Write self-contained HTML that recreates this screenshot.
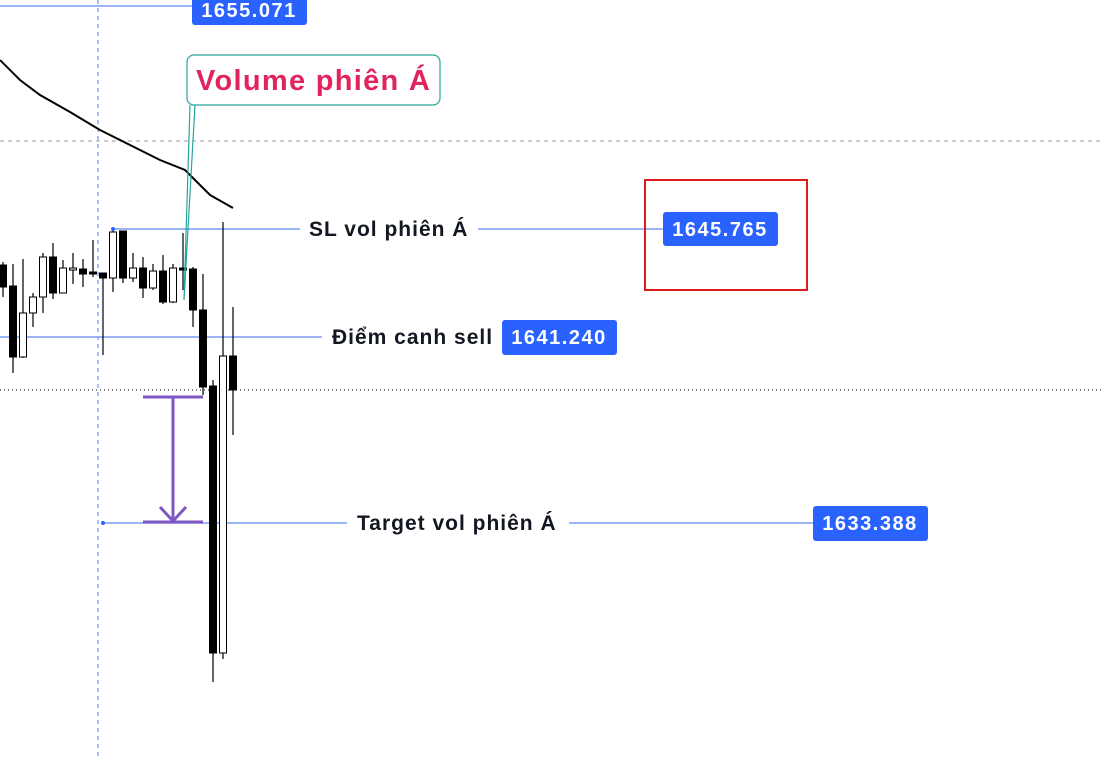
<!DOCTYPE html>
<html><head><meta charset="utf-8"><style>
html,body{margin:0;padding:0;background:#fff;}
svg{display:block;font-family:"Liberation Sans","DejaVu Sans",sans-serif;}
.lbl{font-size:21px;font-weight:bold;fill:#131722;letter-spacing:1px;}
.num{font-size:20px;font-weight:bold;fill:#fff;letter-spacing:1.5px;}
</style></head><body>
<svg id="chart" width="1102" height="760">
<line x1="0" y1="141" x2="1102" y2="141" stroke="#9e9e9e" stroke-dasharray="4,4"/>
<line x1="0" y1="390" x2="1102" y2="390" stroke="#000" stroke-dasharray="1,3"/>
<line x1="98" y1="0" x2="98" y2="760" stroke="#2962ff" stroke-dasharray="4,4" opacity="0.8"/>

<line x1="0" y1="6" x2="193" y2="6" stroke="#7b9cf5" stroke-width="1.5"/>
<line x1="113" y1="229" x2="300" y2="229" stroke="#7b9cf5" stroke-width="1.5"/>
<line x1="0" y1="337" x2="322" y2="337" stroke="#7b9cf5" stroke-width="1.5"/>
<line x1="103" y1="523" x2="347" y2="523" stroke="#7b9cf5" stroke-width="1.5"/>

<g id="candles"></g>
<polyline id="ma" fill="none" stroke="#000" stroke-width="2"/>

<rect x="192" y="-6" width="115" height="31" rx="3" fill="#2962ff"/>
<text x="249" y="17" class="num" text-anchor="middle">1655.071</text>

<circle cx="113" cy="229" r="2" fill="#2962ff"/>
<text x="309" y="236" class="lbl">SL vol phiên Á</text>
<line x1="478" y1="229" x2="663" y2="229" stroke="#7b9cf5" stroke-width="1.5"/>
<rect x="663" y="212" width="115" height="34" rx="3" fill="#2962ff"/>
<text x="720" y="236" class="num" text-anchor="middle">1645.765</text>
<rect x="645" y="180" width="162" height="110" fill="none" stroke="#e01b1b" stroke-width="2"/>

<text x="332" y="344" class="lbl">Điểm canh sell</text>
<rect x="502" y="320" width="115" height="35" rx="3" fill="#2962ff"/>
<text x="559" y="344" class="num" text-anchor="middle">1641.240</text>

<circle cx="103" cy="523" r="2" fill="#2962ff"/>
<text x="357" y="530" class="lbl">Target vol phiên Á</text>
<line x1="569" y1="523" x2="813" y2="523" stroke="#7b9cf5" stroke-width="1.5"/>
<rect x="813" y="506" width="115" height="35" rx="3" fill="#2962ff"/>
<text x="870" y="530" class="num" text-anchor="middle">1633.388</text>

<g stroke="#7e57c2" stroke-width="3" fill="none">
<line x1="143" y1="397" x2="203" y2="397"/>
<line x1="173" y1="397" x2="173" y2="520"/>
<polyline points="160,507 173,521 186,507"/>
<line x1="143" y1="522" x2="203" y2="522"/>
</g>

<g>
<polyline points="190,105 184,300 195,105" fill="none" stroke="#26a69a" stroke-width="1.2"/>
<rect x="187" y="55" width="253" height="50" rx="7" fill="#fff" stroke="#26a69a" stroke-width="1.2"/>
<text x="196" y="90" fill="#e0245e" font-size="29" font-weight="bold" letter-spacing="1.3">Volume phiên Á</text>
</g>
</svg>
<script>
const opens  = [1644.252,1643.370,1640.387,1642.236,1642.908,1644.589,1643.076,1644.042,1644.084,1643.958,1643.916,1643.706,1645.681,1643.706,1644.126,1643.286,1644.000,1642.698,1644.126,1644.084,1642.362,1639.168,1627.950,1640.429];
const highs  = [1644.378,1644.294,1644.504,1643.076,1644.757,1645.177,1644.462,1644.757,1644.504,1645.303,1643.916,1645.807,1645.681,1644.757,1644.589,1644.294,1644.673,1644.294,1645.597,1644.168,1643.874,1639.420,1646.059,1642.488];
const lows   = [1642.908,1639.715,1640.345,1641.647,1642.236,1642.824,1643.076,1643.454,1643.328,1643.748,1640.471,1643.118,1643.496,1643.538,1642.866,1643.202,1642.614,1642.656,1643.202,1641.647,1638.790,1626.731,1627.698,1637.110];
const closes = [1643.328,1640.387,1642.236,1642.908,1644.589,1643.076,1644.126,1644.126,1643.874,1643.874,1643.706,1645.639,1643.706,1644.126,1643.286,1644.000,1642.698,1644.126,1644.042,1642.362,1639.126,1627.950,1640.429,1639.000];
const maVals = [1652.865,1652.025,1651.395,1650.681,1649.924,1649.294,1648.664,1648.244,1647.614,1647.194,1646.647];
const maIdx  = [-0.3,1.7,3.7,6.7,9.7,12.7,15.7,18.2,19.7,20.7,23];
const P0=1645.765, Y0=229, K=23.8;
function y(p){return Y0+(P0-p)*K;}
function x(i){return 3+i*10;}
const ns='http://www.w3.org/2000/svg';
const g=document.getElementById('candles');
for(let i=0;i<opens.length;i++){
  const up=closes[i]>=opens[i];
  const w=document.createElementNS(ns,'line');
  w.setAttribute('x1',x(i));w.setAttribute('x2',x(i));
  w.setAttribute('y1',y(highs[i]));w.setAttribute('y2',y(lows[i]));
  w.setAttribute('stroke','#000');w.setAttribute('stroke-width','1.2');
  
  
  g.appendChild(w);
  const top=y(Math.max(opens[i],closes[i])), bot=y(Math.min(opens[i],closes[i]));
  const r=document.createElementNS(ns,'rect');
  r.setAttribute('x',x(i)-3.5);r.setAttribute('width',7);
  r.setAttribute('y',top);r.setAttribute('height',Math.max(1.5,bot-top));
  r.setAttribute('fill',up?'#fff':'#000');r.setAttribute('stroke','#000');r.setAttribute('stroke-width','1');
  
  
  g.appendChild(r);
}
document.getElementById('ma').setAttribute('points',maVals.map((v,i)=>x(maIdx[i])+','+y(v)).join(' '));
</script>
</body></html>
